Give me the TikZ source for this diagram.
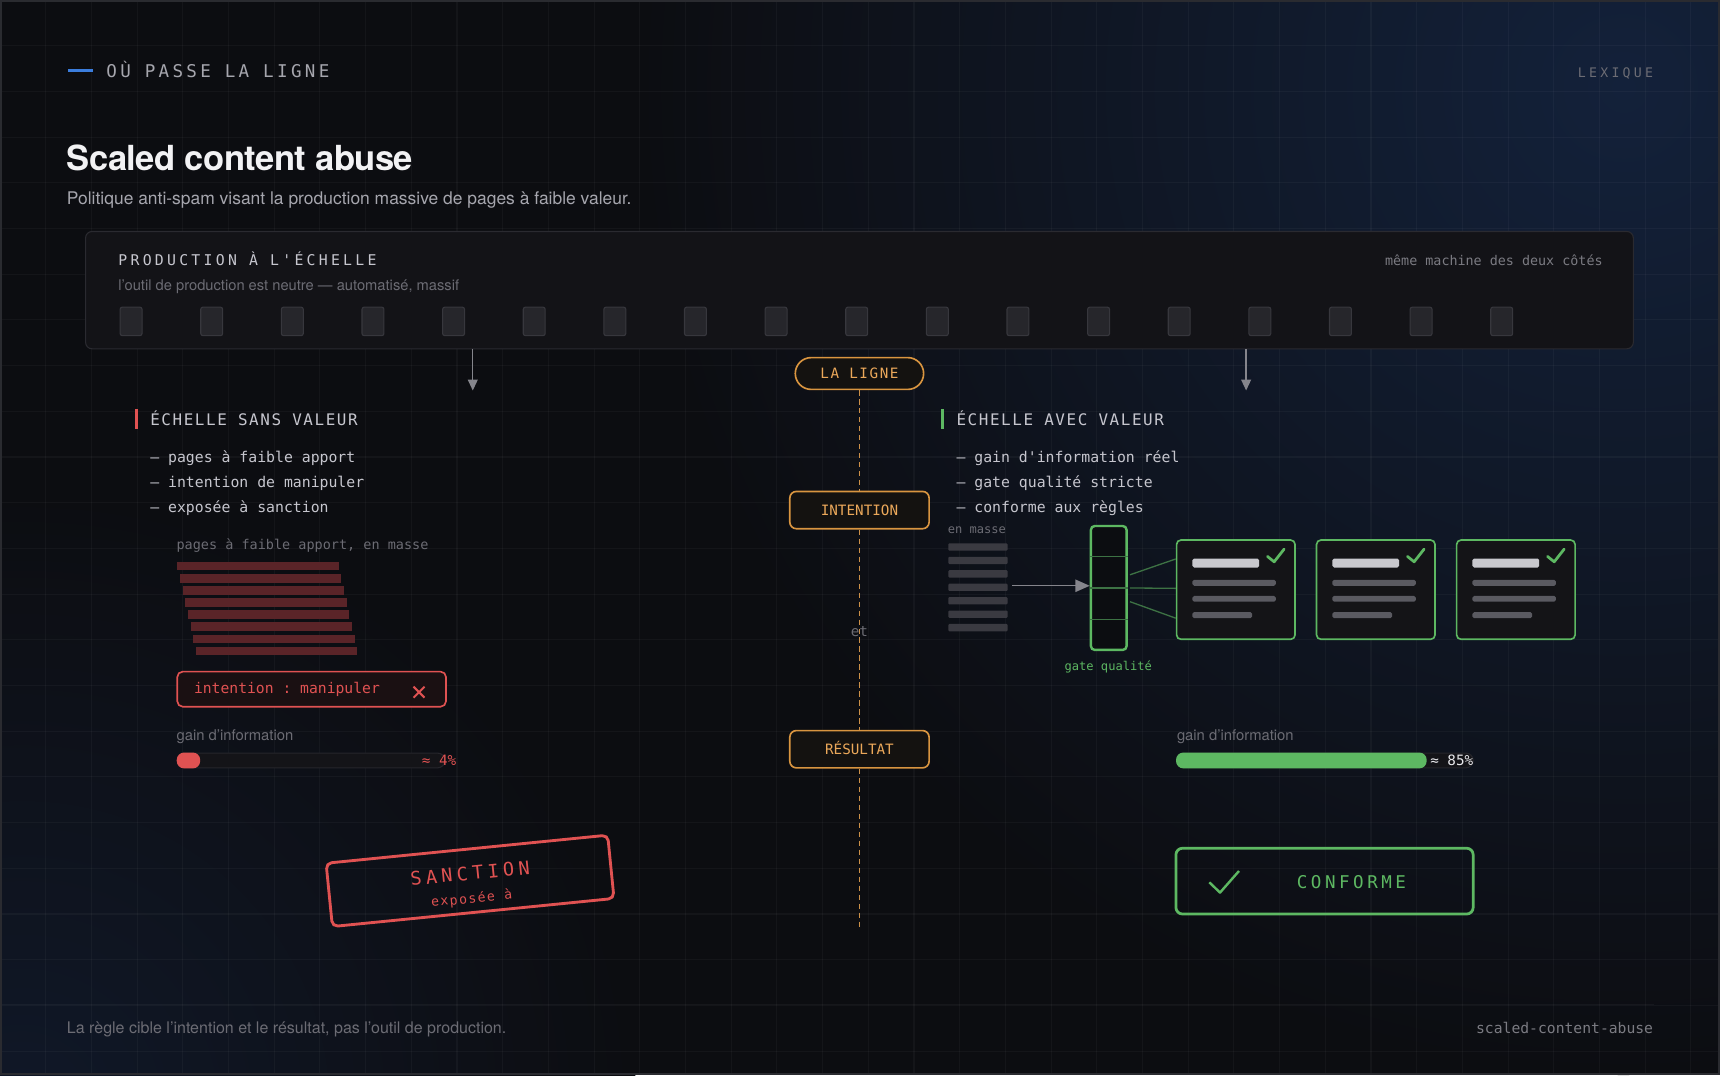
\documentclass[tikz,border=0pt]{standalone}
\usepackage{fontspec}
\setmainfont{TeX Gyre Heros}
\setsansfont{TeX Gyre Heros}
\setmonofont{DejaVu Sans Mono}
\newfontfamily\titleF{TeX Gyre Heros}[LetterSpace=-1.5]
\newfontfamily\monoHeadF{DejaVu Sans Mono}[LetterSpace=19]
\newfontfamily\monoLexF{DejaVu Sans Mono}[LetterSpace=25]
\newfontfamily\monoProdF{DejaVu Sans Mono}[LetterSpace=22]
\newfontfamily\monoSecF{DejaVu Sans Mono}[LetterSpace=10]
\newfontfamily\monoPillF{DejaVu Sans Mono}[LetterSpace=11]
\newfontfamily\monoStampF{DejaVu Sans Mono}[LetterSpace=23]
\newfontfamily\monoSmallF{DejaVu Sans Mono}[LetterSpace=11]
\newfontfamily\monoConfF{DejaVu Sans Mono}[LetterSpace=20]
\usetikzlibrary{arrows.meta,calc}
\definecolor{bgbase}{HTML}{0C0D11}
\definecolor{glow}{HTML}{13213A}
\definecolor{glowb}{HTML}{101828}
\definecolor{framec}{HTML}{2A2B30}
\definecolor{blueacc}{HTML}{3B7DDD}
\definecolor{txthi}{HTML}{F2F2F4}
\definecolor{txtmid}{HTML}{A6A6AE}
\definecolor{txtlo}{HTML}{6C6C74}
\definecolor{txtlist}{HTML}{C6C6CE}
\definecolor{panel}{HTML}{131317}
\definecolor{panelb}{HTML}{2A2A30}
\definecolor{chip}{HTML}{26262B}
\definecolor{chipb}{HTML}{37373D}
\definecolor{arrowc}{HTML}{85858C}
\definecolor{orangeb}{HTML}{D99540}
\definecolor{oranget}{HTML}{EBA85A}
\definecolor{orangel}{HTML}{CC9048}
\definecolor{pillfill}{HTML}{141210}
\definecolor{redc}{HTML}{E05252}
\definecolor{redstripe}{HTML}{5A2428}
\definecolor{redfill}{HTML}{1A1012}
\definecolor{greenc}{HTML}{5DB862}
\definecolor{greendim}{HTML}{3D7244}
\definecolor{cardfill}{HTML}{141417}
\definecolor{cardtitle}{HTML}{C8C8CD}
\definecolor{cardline}{HTML}{5A5A61}
\definecolor{massbar}{HTML}{3A3A41}
\definecolor{trackc}{HTML}{141418}
\definecolor{trackb}{HTML}{25252B}
\definecolor{pctw}{HTML}{E8E8EC}
\newcommand\fsz[1]{\fontsize{#1pt}{#1pt}\selectfont}
\tikzset{
  lbl/.style={inner sep=0pt, outer sep=0pt},
  gridline/.style={draw=white, opacity=0.035, line width=0.5pt},
  chipbox/.style={draw=chipb, fill=chip, line width=0.5pt, rounded corners=1pt, minimum width=10pt, minimum height=13pt, inner sep=0pt},
  arr/.style={draw=arrowc, line width=0.6pt, -{Triangle[length=5pt,width=4.5pt]}},
  pill/.style={draw=orangeb, fill=pillfill, line width=0.75pt, text=oranget, font=\monoPillF\fsz{6.5}, text height=4.74pt, text depth=0pt, inner sep=0pt},
  dashline/.style={draw=orangel, line width=0.85pt, dash pattern=on 2.4pt off 1.7pt},
  sechead/.style={lbl, anchor=base west, font=\monoSecF\fsz{7.25}, text=txtlist},
  listitem/.style={lbl, anchor=base west, font=\ttfamily\fsz{6.75}, text=txtlist},
  smallmono/.style={lbl, font=\ttfamily\fsz{6.15}, text=txtlo},
  gainlbl/.style={lbl, anchor=base west, font=\sffamily\fsz{6.75}, text=txtlo},
  trackbox/.style={draw=trackb, fill=trackc, line width=0.5pt, rounded corners=3.375pt, minimum height=6.75pt, inner sep=0pt},
  cardbox/.style={draw=greenc, fill=cardfill, line width=0.75pt, rounded corners=2pt, minimum width=54pt, minimum height=45.25pt, inner sep=0pt},
  checkmark/.style={draw=greenc, line width=1.25pt, line cap=round, line join=round},
}
\begin{document}
\begin{tikzpicture}[x=0.5pt,y=-0.5pt]
\useasboundingbox (0,0) rectangle (1568,980);
% background
\fill[bgbase] (0,0) rectangle (1568,980);
\begin{scope}
  \clip (0,0) rectangle (1568,980);
  \shade[inner color=glow, outer color=bgbase] (1480,80) circle (900);
  \shade[inner color=glowb, outer color=bgbase] (20,1010) circle (560);
  \foreach \i in {0,...,38} \draw[gridline] ({\i*41.66},0) -- ({\i*41.66},980);
  \foreach \j in {0,...,23} \draw[gridline] (0,{\j*41.66}) -- (1568,{\j*41.66});
\end{scope}
\draw[draw=white, opacity=0.045, line width=0.6pt] (0,915.5) -- (1508,915.5);
\draw[framec, line width=0.75pt] (0.75,0.75) rectangle (1567.25,979.25);

% header
\draw[blueacc, line width=1.25pt] (62,64) -- (85,64);
\node[lbl, anchor=base west, font=\monoHeadF\fsz{8}, text=txtmid] (kicker) at (97,70.5) {OÙ PASSE LA LIGNE};
\node[lbl, anchor=base east, font=\monoLexF\fsz{6}, text=txtlo] (lexique) at (1507,70.5) {LEXIQUE};
\node[lbl, anchor=base west, font=\titleF\bfseries\fsz{15.75}, text=txthi] (title) at (61,155) {Scaled content abuse};
\node[lbl, anchor=base west, font=\sffamily\fsz{7.95}, text=txtmid] (subtitle) at (61,186) {Politique anti-spam visant la production massive de pages à faible valeur.};

% production panel
\node[draw=panelb, fill=panel, line width=0.5pt, rounded corners=3pt, minimum width=705.5pt, minimum height=53.5pt, inner sep=0pt] (prod) at (783.5,264.5) {};
\node[lbl, anchor=base west, font=\monoProdF\fsz{6.75}, text=txtlist] (prodtitle) at (108,242) {PRODUCTION À L'ÉCHELLE};
\node[lbl, anchor=base west, font=\sffamily\fsz{6.7}, text=txtlo] (prodsub) at (108,264.5) {l'outil de production est neutre — automatisé, massif};
\node[lbl, anchor=base east, font=\ttfamily\fsz{6.1}, text=txtlo!90!white] (prodnote) at (1461,242) {même machine des deux côtés};
\foreach \k in {1,...,18} \node[chipbox] (chip\k) at ({119.5+73.5*(\k-1)},293) {};

\coordinate (arrL) at (431,356);
\coordinate (arrR) at (1136,356);
\draw[arr] (prod.south -| arrL) -- (arrL);
\draw[arr] (prod.south -| arrR) -- (arrR);

% central line
\node[pill, rounded corners=7.25pt, minimum width=58.5pt, minimum height=14.5pt] (ligne) at (783.5,340.5) {LA LIGNE};
\node[pill, font=\ttfamily\fsz{6.5}, rounded corners=3pt, minimum width=63.5pt, minimum height=17pt] (intention) at (783.5,465) {INTENTION};
\node[pill, font=\ttfamily\fsz{6.5}, rounded corners=3pt, minimum width=63.5pt, minimum height=17pt] (resultat) at (783.5,683) {RÉSULTAT};
\coordinate (ligneEnd) at (783.5,845);
\draw[dashline] (ligne.south) -- (intention.north);
\draw[dashline] (intention.south) -- (resultat.north);
\draw[dashline] (resultat.south) -- (ligneEnd);
\node[lbl, font=\ttfamily\fsz{6.5}, text=txtlo] (et) at (783.5,576) {et};

% left section
\fill[redc] (123,373) rectangle (126,391);
\node[sechead] (leftHead) at (137,388) {ÉCHELLE SANS VALEUR};
\node[listitem] (l1) at (137,421.5) {— pages à faible apport};
\node[listitem] (l2) at (137,444.5) {— intention de manipuler};
\node[listitem] (l3) at (137,467.5) {— exposée à sanction};
\node[smallmono, anchor=base west] (massLbl) at (161,501) {pages à faible apport, en masse};
\foreach \i in {0,...,7}
  \fill[redstripe] ({161.6+2.44*\i},{512+11.07*\i}) rectangle ({308.6+2.44*\i},{520+11.07*\i});
\node[draw=redc, fill=redfill, line width=0.75pt, rounded corners=2.5pt, minimum width=122.5pt, minimum height=16pt, inner sep=0pt] (manip) at (284.1,628.25) {};
\node[lbl, anchor=base west, font=\ttfamily\fsz{6.7}, text=redc] (manipTxt) at (176.9,632.5) {intention : manipuler};
\draw[redc, line width=0.9pt] (377,626) -- (387,636) (377,636) -- (387,626);
\node[gainlbl] (gainL) at (161,675) {gain d'information};
\node[trackbox, minimum width=122pt] (trackL) at (283.6,693.25) {};
\fill[redc, rounded corners=3.375pt] (trackL.north west) rectangle ($(trackL.south west)+(21.4,0)$);
\node[lbl, anchor=base east, font=\ttfamily\fsz{6.5}, text=redc] (pctL) at (416,697.5) {≈ 4\%};

\node[draw=redc, line width=1.3pt, rounded corners=2.5pt, minimum width=129pt, minimum height=29pt, inner sep=0pt, rotate=5.7] (stamp) at (428.5,803) {};
\node[lbl, rotate=5.7, font=\monoStampF\fsz{8.5}, text=redc] (sanction) at (428.5,796) {SANCTION};
\node[lbl, rotate=5.7, font=\monoSmallF\fsz{6}, text=redc] (expo) at (430,819.5) {exposée à};

% right section
\fill[greenc] (858,373) rectangle (861,391);
\node[sechead] (rightHead) at (872,388) {ÉCHELLE AVEC VALEUR};
\node[listitem] (r1) at (872,421.5) {— gain d'information réel};
\node[listitem] (r2) at (872,444.5) {— gate qualité stricte};
\node[listitem] (r3) at (872,467.5) {— conforme aux règles};
\node[smallmono, anchor=base west, font=\ttfamily\fsz{5.5}] (enMasse) at (864,486.5) {en masse};
\foreach \i in {0,...,6}
  \fill[massbar, rounded corners=0.5pt] (864.5,{495.3+12.25*\i}) rectangle (918.6,{502+12.25*\i});
\node[draw=greenc, fill=bgbase, line width=1.1pt, rounded corners=1.75pt, minimum width=16.25pt, minimum height=56.5pt, inner sep=0pt] (gate) at (1010.75,536) {};
\foreach \f in {0.25,0.5,0.75}
  \draw[greendim, line width=0.5pt] ($(gate.north west)!\f!(gate.south west)$) -- ($(gate.north east)!\f!(gate.south east)$);
\node[lbl, font=\ttfamily\fsz{5.5}, text=greenc] (gateLbl) at (1010.3,608.3) {gate qualité};
\coordinate (massEnd) at (923,534);
\draw[draw=arrowc, line width=0.6pt, -{Triangle[length=6.5pt,width=5.6pt]}] (massEnd) -- (massEnd -| gate.west);

\node[cardbox] (card1) at (1126.6,537.55) {};
\node[cardbox] (card2) at (1254.2,537.55) {};
\node[cardbox] (card3) at (1381.9,537.55) {};
\draw[greendim, line width=0.6pt] ($(gate.east)+(2,-12)$) -- ($(card1.west)+(0,-28)$);
\draw[greendim, line width=0.6pt] ($(gate.east)+(2,0)$) -- ($(card1.west)+(0,-1.2)$);
\draw[greendim, line width=0.6pt] ($(gate.east)+(2,12.5)$) -- ($(card1.west)+(0,26)$);
\foreach \n in {1,2,3} {
  \begin{scope}[shift={(card\n.north west)}]
    \fill[cardtitle, rounded corners=0.75pt] (15.2,17.6) rectangle (76,25.8);
    \fill[cardline, rounded corners=0.75pt] (15.2,37) rectangle (91.2,42.5);
    \fill[cardline, rounded corners=0.75pt] (15.2,51.7) rectangle (91.2,57);
    \fill[cardline, rounded corners=0.75pt] (15.2,66.5) rectangle (69.6,72);
    \draw[checkmark] (83.6,15.7) -- (89.7,20.6) -- (98.8,9);
  \end{scope}
}

\node[gainlbl] (gainR) at (1073,675) {gain d'information};
\node[trackbox, minimum width=135.2pt] (trackR) at (1207.8,693.25) {};
\fill[greenc, rounded corners=3.375pt] (trackR.north west) rectangle ($(trackR.south west)+(228.5,0)$);
\node[lbl, anchor=base east, font=\ttfamily\fsz{6.5}, text=pctw] (pctR) at (1343,697.5) {≈ 85\%};

\node[draw=greenc, line width=1.25pt, rounded corners=3pt, minimum width=135.5pt, minimum height=30pt, inner sep=0pt] (conforme) at (1207.5,803.25) {};
\draw[checkmark, line width=1.1pt, line cap=butt] (1102.4,804.3) -- (1112.2,813.7) -- (1129.5,794);
\node[lbl, font=\monoConfF\fsz{8}, text=greenc, text height=5.83pt, text depth=0pt] (conformeTxt) at (1232,803.7) {CONFORME};

% footer
\node[lbl, anchor=base west, font=\sffamily\fsz{7.3}, text=txtlo] (footL) at (61,942) {La règle cible l'intention et le résultat, pas l'outil de production.};
\node[lbl, anchor=base east, font=\ttfamily\fsz{6.7}, text=txtlo!90!white] (footR) at (1507,942) {scaled-content-abuse};
\end{tikzpicture}
\end{document}
